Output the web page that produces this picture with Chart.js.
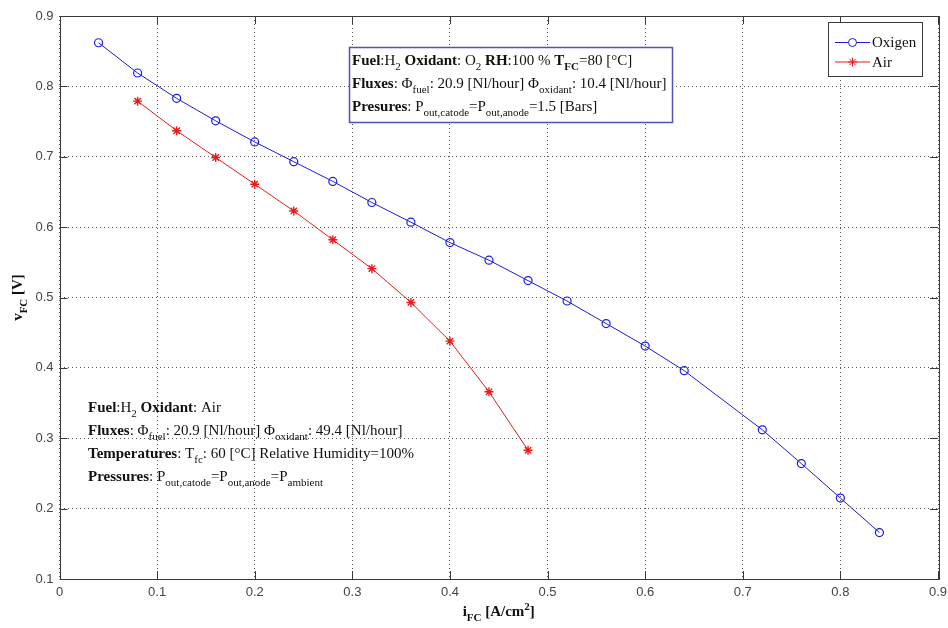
<!DOCTYPE html>
<html>
<head>
<meta charset="utf-8">
<script src="https://cdn.jsdelivr.net/npm/chart.js@4.4.1/dist/chart.umd.min.js"></script>
<style>
  html, body { margin: 0; padding: 0; background: #ffffff; }
  #wrap { width: 948px; height: 628px; position: relative; }
</style>
</head>
<body>
<div id="wrap"><canvas id="c" width="948" height="628"></canvas></div>
<script>
// Polarization curves of the fuel cell: current density (A/cm²) vs cell voltage (V)
const oxygenCurrent = [0.04, 0.08, 0.12, 0.16, 0.20, 0.24, 0.28, 0.32, 0.36, 0.40, 0.44, 0.48, 0.52, 0.56, 0.60, 0.64, 0.72, 0.76, 0.80, 0.84];
const oxygenVoltage = [0.862, 0.819, 0.783, 0.751, 0.721, 0.693, 0.665, 0.635, 0.607, 0.578, 0.553, 0.524, 0.495, 0.463, 0.431, 0.396, 0.312, 0.264, 0.215, 0.166];

const airCurrent = [0.08, 0.12, 0.16, 0.20, 0.24, 0.28, 0.32, 0.36, 0.40, 0.44, 0.48];
const airVoltage = [0.779, 0.737, 0.699, 0.661, 0.623, 0.582, 0.541, 0.493, 0.438, 0.366, 0.283];

const seriesNames = ['Oxigen', 'Air'];

const xTicks = [0, 0.1, 0.2, 0.3, 0.4, 0.5, 0.6, 0.7, 0.8, 0.9];
const yTicks = [0.1, 0.2, 0.3, 0.4, 0.5, 0.6, 0.7, 0.8, 0.9];

const toPoints = (xs, ys) => xs.map((x, i) => ({ x: x, y: ys[i] }));

const BLUE = '#1c1cdc';
const RED = '#ec1a1a';
const SERIF = '"Liberation Serif", "Times New Roman", serif';

// Draws a line made of plain, bold, subscript and superscript runs
function richText(ctx, x, y, runs, size) {
  let cx = x;
  runs.forEach(r => {
    const small = r.sub || r.sup;
    const fs = small ? Math.round(size * 0.74) : size;
    ctx.font = (r.b ? 'bold ' : '') + fs + 'px ' + SERIF;
    const dy = r.sub ? size * 0.36 : (r.sup ? -size * 0.42 : 0);
    ctx.fillText(r.t, cx, y + dy);
    cx += ctx.measureText(r.t).width;
  });
  return cx - x;
}
function runsWidth(ctx, runs, size) {
  let w = 0;
  runs.forEach(r => {
    const fs = (r.sub || r.sup) ? Math.round(size * 0.74) : size;
    ctx.font = (r.b ? 'bold ' : '') + fs + 'px ' + SERIF;
    w += ctx.measureText(r.t).width;
  });
  return w;
}

const oxygenNote = [
  [{t: 'Fuel', b: 1}, {t: ':H'}, {t: '2', sub: 1}, {t: ' '}, {t: 'Oxidant', b: 1}, {t: ': O'}, {t: '2', sub: 1}, {t: ' '}, {t: 'RH', b: 1}, {t: ':100 % '}, {t: 'T', b: 1}, {t: 'FC', b: 1, sub: 1}, {t: '=80 [°C]'}],
  [{t: 'Fluxes', b: 1}, {t: ': Φ'}, {t: 'fuel', sub: 1}, {t: ': 20.9 [Nl/hour] Φ'}, {t: 'oxidant', sub: 1}, {t: ': 10.4 [Nl/hour]'}],
  [{t: 'Presures', b: 1}, {t: ': P'}, {t: 'out,catode', sub: 1}, {t: '=P'}, {t: 'out,anode', sub: 1}, {t: '=1.5 [Bars]'}]
];
const airNote = [
  [{t: 'Fuel', b: 1}, {t: ':H'}, {t: '2', sub: 1}, {t: ' '}, {t: 'Oxidant', b: 1}, {t: ': Air'}],
  [{t: 'Fluxes', b: 1}, {t: ': Φ'}, {t: 'fuel', sub: 1}, {t: ': 20.9 [Nl/hour] Φ'}, {t: 'oxidant', sub: 1}, {t: ': 49.4 [Nl/hour]'}],
  [{t: 'Temperatures', b: 1}, {t: ': T'}, {t: 'fc', sub: 1}, {t: ': 60 [°C] Relative Humidity=100%'}],
  [{t: 'Pressures', b: 1}, {t: ': P'}, {t: 'out,catode', sub: 1}, {t: '=P'}, {t: 'out,anode', sub: 1}, {t: '=P'}, {t: 'ambient', sub: 1}]
];

// Axes frame, inward ticks, annotations, axis titles and legend
const decorations = {
  id: 'decorations',
  afterDatasetsDraw(chart) {
    const ctx = chart.ctx;
    const a = chart.chartArea;
    const xs = chart.scales.x, ys = chart.scales.y;
    ctx.save();

    // frame
    ctx.strokeStyle = '#3a3a3a';
    ctx.lineWidth = 1;
    ctx.setLineDash([]);
    ctx.strokeRect(Math.round(a.left) + 0.5, Math.round(a.top) + 0.5,
                   Math.round(a.right - a.left), Math.round(a.bottom - a.top));

    // inward ticks on all four sides
    const TL = 8;
    ctx.beginPath();
    xTicks.forEach(v => {
      const px = Math.round(xs.getPixelForValue(v)) + 0.5;
      ctx.moveTo(px, a.bottom); ctx.lineTo(px, a.bottom - TL);
      ctx.moveTo(px, a.top); ctx.lineTo(px, a.top + TL);
    });
    yTicks.forEach(v => {
      const py = Math.round(ys.getPixelForValue(v)) + 0.5;
      ctx.moveTo(a.left, py); ctx.lineTo(a.left + TL, py);
      ctx.moveTo(a.right, py); ctx.lineTo(a.right - TL, py);
    });
    ctx.stroke();

    // annotation for the oxygen run (framed, opaque)
    const bx = 349, by = 47, bw = 323, bh = 75;
    ctx.fillStyle = '#ffffff';
    ctx.fillRect(bx, by, bw, bh);
    ctx.strokeStyle = '#5252b4';
    ctx.lineWidth = 1.5;
    ctx.strokeRect(bx + 0.5, by + 0.5, bw, bh);
    ctx.fillStyle = '#111111';
    ctx.textBaseline = 'alphabetic';
    ctx.textAlign = 'left';
    [64.5, 87.5, 110.5].forEach((yb, i) => richText(ctx, 352, yb, oxygenNote[i], 15));

    // annotation for the air run (no frame)
    [412, 435, 458, 481].forEach((yb, i) => richText(ctx, 88, yb, airNote[i], 15));

    // x axis title
    const xTitle = [{t: 'i', b: 1}, {t: 'FC', b: 1, sub: 1}, {t: ' [A/cm', b: 1}, {t: '2', b: 1, sup: 1}, {t: ']', b: 1}];
    const xw = runsWidth(ctx, xTitle, 15);
    richText(ctx, (a.left + a.right) / 2 - xw / 2, 616, xTitle, 15);

    // y axis title
    const yTitle = [{t: 'v', b: 1}, {t: 'FC', b: 1, sub: 1}, {t: ' [V]', b: 1}];
    const yw = runsWidth(ctx, yTitle, 15);
    ctx.save();
    ctx.translate(22, (a.top + a.bottom) / 2);
    ctx.rotate(-Math.PI / 2);
    richText(ctx, -yw / 2, 0, yTitle, 15);
    ctx.restore();

    // legend
    const lx = 828, ly = 22, lw = 94, lh = 54;
    ctx.fillStyle = '#ffffff';
    ctx.fillRect(lx, ly, lw, lh);
    ctx.strokeStyle = '#3a3a3a';
    ctx.lineWidth = 1;
    ctx.strokeRect(lx + 0.5, ly + 0.5, lw, lh);
    chart.data.datasets.forEach((ds, i) => {
      const yy = [42.5, 62][i];
      ctx.strokeStyle = ds.borderColor;
      ctx.lineWidth = 1;
      ctx.beginPath();
      ctx.moveTo(835, yy); ctx.lineTo(870, yy);
      ctx.stroke();
      Chart.helpers.drawPoint(ctx, {
        pointStyle: ds.pointStyle, radius: ds.pointRadius, borderWidth: ds.pointBorderWidth, rotation: 0
      }, 852.5, yy);
      ctx.fillStyle = '#111111';
      ctx.font = '15px ' + SERIF;
      ctx.textBaseline = 'middle';
      ctx.fillText(ds.label, 872, yy + 1);
    });
    ctx.restore();
  },
  beforeDatasetsDraw(chart) {
    // point styles draw with the dataset colour in the legend helper
  }
};

const chart = new Chart(document.getElementById('c'), {
  type: 'line',
  data: {
    datasets: [
      {
        label: seriesNames[0],
        data: toPoints(oxygenCurrent, oxygenVoltage),
        borderColor: BLUE,
        borderWidth: 1,
        pointStyle: 'circle',
        pointRadius: 4,
        pointBorderWidth: 1.2,
        pointBorderColor: BLUE,
        pointBackgroundColor: 'rgba(0,0,0,0)',
        tension: 0
      },
      {
        label: seriesNames[1],
        data: toPoints(airCurrent, airVoltage),
        borderColor: RED,
        borderWidth: 1,
        pointStyle: 'star',
        pointRadius: 4.5,
        pointBorderWidth: 1.4,
        pointBorderColor: RED,
        pointBackgroundColor: RED,
        tension: 0
      }
    ]
  },
  options: {
    responsive: false,
    animation: false,
    devicePixelRatio: 1,
    layout: { padding: { top: 16, right: 10, left: 0, bottom: 0 } },
    plugins: { legend: { display: false }, tooltip: { enabled: false } },
    elements: { point: { hoverRadius: 4 } },
    scales: {
      x: {
        type: 'linear',
        min: 0, max: 0.9,
        afterFit(s) { s.height = 49; s.paddingLeft = 0; s.paddingRight = 0; },
        afterBuildTicks(s) { s.ticks = xTicks.map(v => ({ value: v })); },
        ticks: {
          color: '#444444',
          font: { family: '"Liberation Sans", Arial, sans-serif', size: 13 },
          padding: 6,
          maxRotation: 0,
          autoSkip: false,
          callback: v => String(Math.round(v * 10) / 10)
        },
        grid: { color: '#555555', lineWidth: 1, drawTicks: false },
        border: { display: false, dash: [1, 3] }
      },
      y: {
        type: 'linear',
        min: 0.1, max: 0.9,
        afterFit(s) { s.width = 59.5; s.paddingTop = 0; s.paddingBottom = 0; },
        afterBuildTicks(s) { s.ticks = yTicks.map(v => ({ value: v })); },
        ticks: {
          color: '#444444',
          font: { family: '"Liberation Sans", Arial, sans-serif', size: 13 },
          padding: 6,
          autoSkip: false,
          callback: v => String(Math.round(v * 10) / 10)
        },
        grid: { color: '#555555', lineWidth: 1, drawTicks: false },
        border: { display: false, dash: [1, 3] }
      }
    }
  },
  plugins: [decorations]
});
</script>
</body>
</html>
